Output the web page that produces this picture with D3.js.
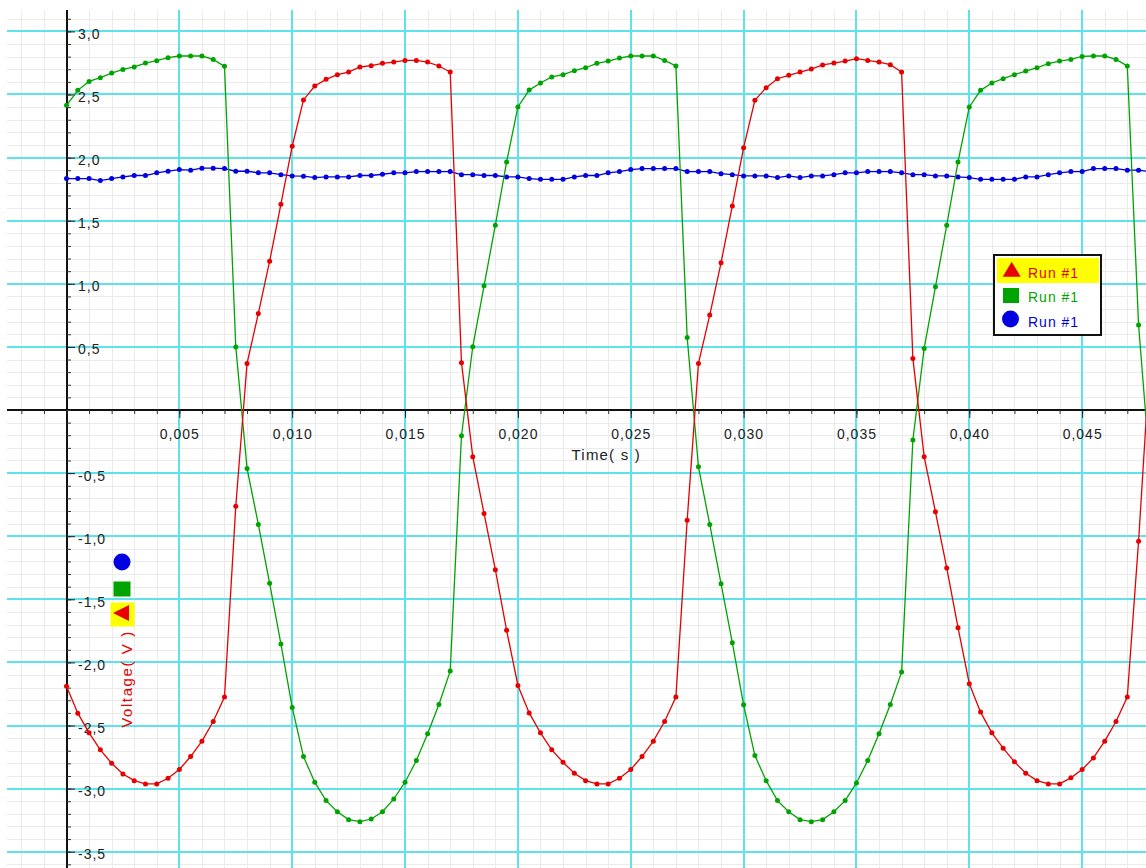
<!DOCTYPE html>
<html>
<head>
<meta charset="utf-8">
<script src="https://cdn.jsdelivr.net/npm/d3@7"></script>
<style>
  html, body { margin: 0; padding: 0; background: #fff; }
  svg { display: block; }
  text { font-family: "Liberation Sans", Arial, sans-serif; font-size: 14px; letter-spacing: 1px; }
</style>
</head>
<body>
<svg id="chart" width="1146" height="868"></svg>
<script>
// ---------- data ----------
const time = [0,0.0005,0.001,0.0015,0.002,0.0025,0.003,0.0035,0.004,0.0045,
  0.005,0.0055,0.006,0.0065,0.007,0.0075,0.008,0.0085,0.009,0.0095,
  0.010,0.0105,0.011,0.0115,0.012,0.0125,0.013,0.0135,0.014,0.0145,
  0.015,0.0155,0.016,0.0165,0.017,0.0175,0.018,0.0185,0.019,0.0195,
  0.020,0.0205,0.021,0.0215,0.022,0.0225,0.023,0.0235,0.024,0.0245,
  0.025,0.0255,0.026,0.0265,0.027,0.0275,0.028,0.0285,0.029,0.0295,
  0.030,0.0305,0.031,0.0315,0.032,0.0325,0.033,0.0335,0.034,0.0345,
  0.035,0.0355,0.036,0.0365,0.037,0.0375,0.038,0.0385,0.039,0.0395,
  0.040,0.0405,0.041,0.0415,0.042,0.0425,0.043,0.0435,0.044,0.0445,
  0.045,0.0455,0.046,0.0465,0.047,0.0475,0.048];

const redRun = [-2.188,-2.402,-2.558,-2.693,-2.799,-2.884,-2.937,-2.963,-2.963,-2.918,
  -2.849,-2.746,-2.624,-2.468,-2.275,-0.762,0.369,0.765,1.179,1.631,
  2.090,2.457,2.567,2.620,2.657,2.678,2.718,2.728,2.747,2.757,
  2.770,2.770,2.757,2.726,2.678,0.375,-0.370,-0.820,-1.265,-1.746,
  -2.183,-2.400,-2.558,-2.693,-2.791,-2.878,-2.937,-2.963,-2.963,-2.918,
  -2.849,-2.746,-2.624,-2.468,-2.275,-0.873,0.369,0.752,1.166,1.617,
  2.079,2.454,2.554,2.625,2.652,2.678,2.702,2.734,2.749,2.765,
  2.784,2.770,2.757,2.736,2.678,0.409,-0.370,-0.807,-1.251,-1.725,
  -2.169,-2.394,-2.558,-2.680,-2.788,-2.878,-2.937,-2.963,-2.963,-2.915,
  -2.849,-2.757,-2.624,-2.468,-2.275,-1.040,0.400];

const greenRun = [2.414,2.533,2.604,2.633,2.670,2.699,2.718,2.749,2.768,2.792,
  2.805,2.805,2.805,2.778,2.723,0.500,-0.463,-0.907,-1.373,-1.854,
  -2.357,-2.746,-2.950,-3.095,-3.183,-3.246,-3.262,-3.241,-3.183,-3.082,
  -2.950,-2.778,-2.566,-2.333,-2.069,-0.204,0.501,0.984,1.464,1.966,
  2.401,2.535,2.591,2.639,2.657,2.689,2.712,2.747,2.765,2.789,
  2.805,2.805,2.805,2.770,2.726,0.575,-0.450,-0.907,-1.376,-1.844,
  -2.336,-2.738,-2.937,-3.095,-3.183,-3.246,-3.262,-3.246,-3.183,-3.095,
  -2.955,-2.778,-2.566,-2.333,-2.077,-0.238,0.488,0.976,1.464,1.966,
  2.401,2.533,2.591,2.625,2.657,2.686,2.712,2.744,2.765,2.778,
  2.802,2.805,2.805,2.778,2.726,0.673,-0.450];

const blueRun = [1.834,1.834,1.834,1.818,1.834,1.847,1.858,1.858,1.879,1.892,
  1.905,1.900,1.916,1.916,1.913,1.892,1.892,1.879,1.879,1.865,
  1.855,1.853,1.842,1.847,1.847,1.847,1.858,1.858,1.868,1.879,
  1.879,1.889,1.889,1.889,1.889,1.865,1.865,1.858,1.858,1.847,
  1.847,1.834,1.828,1.828,1.828,1.847,1.858,1.858,1.879,1.889,
  1.905,1.913,1.913,1.913,1.913,1.889,1.889,1.889,1.873,1.865,
  1.855,1.855,1.855,1.842,1.855,1.842,1.855,1.855,1.865,1.879,
  1.879,1.889,1.889,1.889,1.879,1.865,1.865,1.855,1.855,1.847,
  1.842,1.828,1.828,1.828,1.828,1.847,1.847,1.865,1.879,1.889,
  1.889,1.913,1.913,1.913,1.900,1.900,1.889];

const xTicks = [0.005,0.010,0.015,0.020,0.025,0.030,0.035,0.040,0.045];
const yTicks = [3.0,2.5,2.0,1.5,1.0,0.5,-0.5,-1.0,-1.5,-2.0,-2.5,-3.0,-3.5];
const legendLabels = ["Run #1","Run #1","Run #1"];
const xTitle = "Time( s )";
const yTitle = "Voltage( V )";

// ---------- setup ----------
const plot = {left: 7, top: 10, right: 1146, bottom: 868};
const colors = {red: "#e60000", green: "#00a400", blue: "#0000e0"};

const x = d3.scaleLinear().domain([0, 0.045]).range([66.5, 66.5 + 9 * 112.85]);
const y = d3.scaleLinear().domain([0, 3]).range([410, 410 - 3 * 126.2]);

const locale = d3.formatLocale({decimal: ",", thousands: ".", grouping: [3], currency: ["", ""], minus: "-"});
const fx = locale.format(".3f");
const fy = locale.format(".1f");

const svg = d3.select("#chart");
svg.append("defs").append("clipPath").attr("id", "clip")
  .append("rect").attr("x", plot.left).attr("y", plot.top)
  .attr("width", plot.right - plot.left).attr("height", plot.bottom - plot.top);

// grid
const xMin = x.invert(plot.left), xMax = x.invert(plot.right);
const yMin = y.invert(plot.bottom), yMax = y.invert(plot.top);
const xMinor = d3.range(Math.ceil(xMin / 0.001), Math.floor(xMax / 0.001) + 1).map(i => i * 0.001);
const yMinor = d3.range(Math.ceil(yMin / 0.1), Math.floor(yMax / 0.1) + 1).map(i => i * 0.1);
const xMajor = xMinor.filter(v => Math.abs(Math.round(v / 0.005) * 0.005 - v) < 1e-9);
const yMajor = yMinor.filter(v => Math.abs(Math.round(v / 0.5) * 0.5 - v) < 1e-9);

const grid = svg.append("g");
grid.selectAll(".gxm").data(xMinor).join("line")
  .attr("x1", d => Math.round(x(d)) + 0.5).attr("x2", d => Math.round(x(d)) + 0.5)
  .attr("y1", plot.top).attr("y2", plot.bottom)
  .attr("stroke", "#ebebeb").attr("stroke-width", 1);
grid.selectAll(".gym").data(yMinor).join("line")
  .attr("y1", d => Math.round(y(d)) + 0.5).attr("y2", d => Math.round(y(d)) + 0.5)
  .attr("x1", plot.left).attr("x2", plot.right)
  .attr("stroke", "#ebebeb").attr("stroke-width", 1);
grid.selectAll(".gxM").data(xMajor.filter(v => Math.abs(v) > 1e-9)).join("line")
  .attr("x1", d => Math.round(x(d))).attr("x2", d => Math.round(x(d)))
  .attr("y1", plot.top).attr("y2", plot.bottom)
  .attr("stroke", "#5ee3ec").attr("stroke-width", 2);
grid.selectAll(".gyM").data(yMajor.filter(v => Math.abs(v) > 1e-9)).join("line")
  .attr("y1", d => Math.round(y(d))).attr("y2", d => Math.round(y(d)))
  .attr("x1", plot.left).attr("x2", plot.right)
  .attr("stroke", "#5ee3ec").attr("stroke-width", 2);

// axes lines
svg.append("line").attr("x1", Math.round(x(0))).attr("x2", Math.round(x(0)))
  .attr("y1", plot.top).attr("y2", plot.bottom).attr("stroke", "#111").attr("stroke-width", 2);
svg.append("line").attr("y1", Math.round(y(0))).attr("y2", Math.round(y(0)))
  .attr("x1", plot.left).attr("x2", plot.right).attr("stroke", "#111").attr("stroke-width", 2);

// minor ticks
const yMinorAxis = d3.axisRight(y).tickValues(yMinor).tickSize(4).tickFormat("");
svg.append("g").attr("transform", `translate(${Math.round(x(0))},0)`).call(yMinorAxis)
  .call(g => g.select(".domain").remove())
  .call(g => g.selectAll("line").attr("stroke", "#333"));
const xMinorAxis = d3.axisBottom(x).tickValues(xMinor).tickSize(4).tickFormat("");
svg.append("g").attr("transform", `translate(0,${Math.round(y(0))})`).call(xMinorAxis)
  .call(g => g.select(".domain").remove())
  .call(g => g.selectAll("line").attr("stroke", "#333"));

// major axes with labels
const yAxis = d3.axisRight(y).tickValues(yTicks).tickSize(8).tickPadding(3).tickFormat(fy);
svg.append("g").attr("transform", `translate(${Math.round(x(0))},0)`).call(yAxis)
  .call(g => g.select(".domain").remove())
  .call(g => g.selectAll("line").attr("stroke", "#222"))
  .call(g => g.selectAll("text").attr("dy", "0.5em").attr("fill", "#222")
    .style("font-family", "'Liberation Sans', Arial, sans-serif").style("font-size", "14px"));
const xAxis = d3.axisBottom(x).tickValues(xTicks).tickSize(8).tickFormat(fx);
svg.append("g").attr("transform", `translate(0,${Math.round(y(0))})`).call(xAxis)
  .call(g => g.select(".domain").remove())
  .call(g => g.selectAll("line").attr("stroke", "#222"))
  .call(g => g.selectAll("text").attr("y", 29).attr("dy", 0).attr("fill", "#222")
    .style("font-family", "'Liberation Sans', Arial, sans-serif").style("font-size", "14px"));

// axis titles
svg.append("text").attr("x", (plot.right + x(0)) / 2).attr("y", 460)
  .attr("text-anchor", "middle").attr("fill", "#222")
  .style("font-size", "15px").style("letter-spacing", "1.2px").text(xTitle);
svg.append("text").attr("transform", "translate(132,679) rotate(-90)")
  .attr("text-anchor", "middle").attr("fill", colors.red)
  .style("font-size", "15px").style("letter-spacing", "1.6px").text(yTitle);

// series
const series = [
  {name: "blue", values: blueRun, color: colors.blue},
  {name: "green", values: greenRun, color: colors.green},
  {name: "red", values: redRun, color: colors.red}
];
const dataG = svg.append("g").attr("clip-path", "url(#clip)");
const line = d3.line().x(d => x(d[0])).y(d => y(d[1]));
series.forEach(s => {
  const pts = time.map((t, i) => [t, s.values[i]]);
  dataG.append("path").datum(pts).attr("d", line)
    .attr("fill", "none").attr("stroke", s.color).attr("stroke-width", 1.3);
  dataG.selectAll(null).data(pts).join("circle")
    .attr("cx", d => x(d[0])).attr("cy", d => y(d[1])).attr("r", 2.5)
    .attr("fill", s.color);
});

// legend
const lg = svg.append("g");
lg.append("rect").attr("x", 994).attr("y", 255).attr("width", 107).attr("height", 80)
  .attr("fill", "#fff").attr("stroke", "#111").attr("stroke-width", 2);
lg.append("rect").attr("x", 997).attr("y", 258).attr("width", 102).attr("height", 25).attr("fill", "#ffff00");
lg.append("path").attr("d", "M1002.7,276.7 L1020.7,276.7 L1011.7,261.7 Z").attr("fill", colors.red);
lg.append("rect").attr("x", 1003).attr("y", 288).attr("width", 16).attr("height", 15).attr("fill", colors.green);
lg.append("circle").attr("cx", 1010.5).attr("cy", 319).attr("r", 8.5).attr("fill", colors.blue);
const lgColors = [colors.red, colors.green, colors.blue];
lg.selectAll(".lt").data(legendLabels).join("text")
  .attr("x", 1028).attr("y", (d, i) => 278 + i * 24.3)
  .attr("fill", (d, i) => lgColors[i]).text(d => d);

// small series markers near y title
const mk = svg.append("g");
mk.append("circle").attr("cx", 122).attr("cy", 562).attr("r", 8.5).attr("fill", colors.blue);
mk.append("rect").attr("x", 113.5).attr("y", 581.5).attr("width", 17).attr("height", 15).attr("fill", colors.green);
mk.append("rect").attr("x", 110.5).attr("y", 602.5).attr("width", 24).attr("height", 24).attr("fill", "#ffff00");
mk.append("path").attr("d", "M113,613 L129,605 L129,621 Z").attr("fill", colors.red);
</script>
</body>
</html>
